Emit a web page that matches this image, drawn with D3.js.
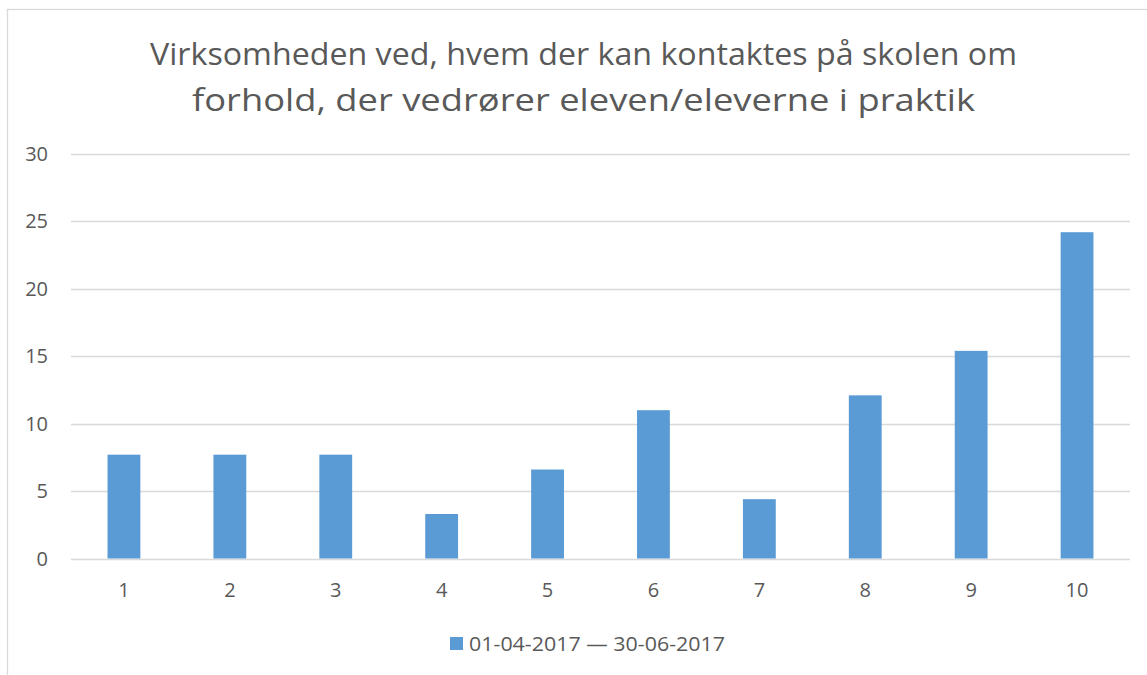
<!DOCTYPE html>
<html>
<head>
<meta charset="utf-8">
<script src="https://cdn.jsdelivr.net/npm/d3@7"></script>
<style>
  body { margin: 0; background: #fff; }
  svg { display: block; font-family: "Open Sans", "Noto Sans", "Liberation Sans", sans-serif; }
</style>
</head>
<body>
<svg id="chart" width="1147" height="675"></svg>
<script>
// data
const categories = ["1", "2", "3", "4", "5", "6", "7", "8", "9", "10"];
const values = [7.7, 7.7, 7.7, 3.3, 6.6, 11.0, 4.4, 12.1, 15.4, 24.2];
const yTicks = [0, 5, 10, 15, 20, 25, 30];
const titleLines = [
  "Virksomheden ved, hvem der kan kontaktes på skolen om",
  "forhold, der vedrører eleven/eleverne i praktik"
];
const seriesName = "01-04-2017 \u2014 30-06-2017";

const svg = d3.select("#chart");
const textColor = "#595959";
const gridColor = "#d9d9d9";
const barColor = "#5b9bd5";

// outer chart border (right/bottom edges fall outside the window)
svg.append("rect")
  .attr("x", 7.5).attr("y", 9.5)
  .attr("width", 1170).attr("height", 700)
  .attr("fill", "none")
  .attr("stroke", gridColor)
  .attr("stroke-width", 1.3);

// title
const titleWidths = [867, 783];
svg.append("g").selectAll("text")
  .data(titleLines)
  .join("text")
  .attr("x", 583.5)
  .attr("y", (d, i) => 65 + i * 46)
  .attr("text-anchor", "middle")
  .attr("fill", textColor)
  .style("font-size", "31px")
  .attr("textLength", (d, i) => titleWidths[i])
  .attr("lengthAdjust", "spacingAndGlyphs")
  .text(d => d);

const x = d3.scaleBand()
  .domain(categories)
  .range([71, 1130])
  .paddingInner(0.69)
  .paddingOuter(0.345);

const y = d3.scaleLinear()
  .domain([0, 30])
  .range([558.5, 154]);

// gridlines
svg.append("g").selectAll("line")
  .data(yTicks)
  .join("line")
  .attr("x1", 71).attr("x2", 1130)
  .attr("y1", d => Math.round(y(d)) + 0.5)
  .attr("y2", d => Math.round(y(d)) + 0.5)
  .attr("stroke", gridColor)
  .attr("stroke-width", 1.3);

// y labels
svg.append("g").selectAll("text")
  .data(yTicks)
  .join("text")
  .attr("x", 48)
  .attr("y", d => y(d) + 7)
  .attr("text-anchor", "end")
  .attr("fill", textColor)
  .style("font-size", "20px")
  .text(d => d);

// bars
svg.append("g").selectAll("rect")
  .data(values)
  .join("rect")
  .attr("x", (d, i) => x(categories[i]))
  .attr("width", x.bandwidth())
  .attr("y", d => y(d))
  .attr("height", d => y(0) - y(d))
  .attr("fill", barColor);

// x labels
svg.append("g").selectAll("text")
  .data(categories)
  .join("text")
  .attr("x", d => x(d) + x.bandwidth() / 2)
  .attr("y", 597)
  .attr("text-anchor", "middle")
  .attr("fill", textColor)
  .style("font-size", "20px")
  .text(d => d);

// legend
const legend = svg.append("g");
legend.append("rect")
  .attr("x", 450).attr("y", 637)
  .attr("width", 13).attr("height", 13)
  .attr("fill", barColor);
legend.append("text")
  .attr("x", 469).attr("y", 650.5)
  .attr("fill", textColor)
  .style("font-size", "20px")
  .attr("textLength", 256)
  .attr("lengthAdjust", "spacingAndGlyphs")
  .text(seriesName);
</script>
</body>
</html>
